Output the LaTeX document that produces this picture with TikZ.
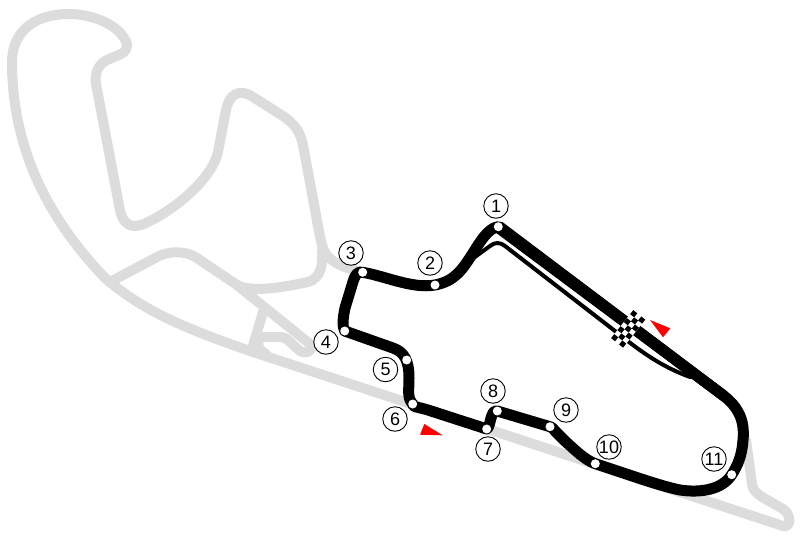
\documentclass[tikz,border=0pt]{standalone}
\usepackage{fontspec}
\setmainfont{Liberation Sans}
\definecolor{oldtrack}{HTML}{DCDCDC}
\tikzset{
  oldline/.style={draw=oldtrack,line width=10pt,line cap=round,line join=round},
  trackline/.style={draw=black,line width=11pt,line cap=round,line join=round},
  pitline/.style={draw=black,line width=4pt,line cap=round,line join=round},
  turndot/.style={circle,fill=white,inner sep=0pt,minimum size=9pt},
  turnlabel/.style={circle,draw=black,line width=0.9pt,fill=white,inner sep=0pt,minimum size=24.5pt,font=\fontsize{18}{18}\selectfont},
  dirmark/.style={fill=red,draw=none}
}
\begin{document}
\begin{tikzpicture}[x=1pt,y=-1pt]
\useasboundingbox (0,0) rectangle (800,536);
% --- unused former circuit
\draw[oldline] (362,272) .. controls (345,268) and (327,263) .. (322,245)
  .. controls (319,232) and (317,222) .. (316,215)
  -- (303,145) .. controls (300,130) and (293,123) .. (283,116)
  -- (253,97) .. controls (240,88) and (229,94) .. (226,110)
  -- (218,152) .. controls (212,178) and (178,207) .. (150,221)
  .. controls (132,231) and (122,226) .. (119,205)
  -- (96,84) .. controls (94,72) and (100,63) .. (107,60)
  -- (121,54) .. controls (130,49) and (128,43) .. (122,35)
  .. controls (110,20) and (85,14) .. (70,14)
  .. controls (30,14) and (11,35) .. (12,65)
  .. controls (13,140) and (40,210) .. (105,278)
  .. controls (140,308) and (175,325) .. (250,351)
  -- (783,526) .. controls (791,528) and (792,515) .. (783,509)
  -- (762,497) .. controls (755,492) and (753,490) .. (752,484)
  -- (746,440);
\draw[oldline] (322,250) .. controls (323,262) and (322,278) .. (308,282)
  .. controls (285,287) and (252,293) .. (237,285)
  -- (197,258) .. controls (185,250) and (168,251) .. (157,257)
  -- (110,282);
\draw[oldline] (237,285) -- (310,344) .. controls (315,351) and (305,355) .. (300,351)
  -- (290,342) .. controls (285,337) and (283,337) .. (278,337)
  -- (260,337);
\draw[oldline] (263,312) -- (252,349);
\draw[oldline] (260,337) .. controls (257,345) and (257,349) .. (266,354);
% --- pit lane
\draw[pitline] (468,262) -- (490,246) .. controls (495,242) and (500,242) .. (505,246)
  -- (615,331) .. controls (640,351) and (660,366) .. (690,377);
% --- current circuit
\coordinate (t1) at (498.3,226.7);
\coordinate (t2) at (435,285);
\coordinate (t3) at (362.7,272.3);
\coordinate (t4) at (344.7,331);
\coordinate (t5) at (406.7,360);
\coordinate (t6) at (412.7,404);
\coordinate (t7) at (486.7,429);
\coordinate (t8) at (497.3,411);
\coordinate (t9) at (550,426.7);
\coordinate (t10) at (595.3,463.7);
\coordinate (t11) at (731.7,474.7);
\draw[trackline] (t1) -- (724,396) .. controls (738,407) and (745,420) .. (743,440)
  .. controls (742,455) and (738,465) .. (t11)
  .. controls (722,490) and (700,493) .. (680,490)
  .. controls (660,486) and (630,475) .. (t10)
  .. controls (585,460) and (575,450) .. (565,441)
  -- (555,431) .. controls (553,428) and (551,427) .. (t9)
  -- (t8) .. controls (490,409) and (491,427) .. (t7)
  -- (428,410) .. controls (418,407) and (412,407) .. (t6)
  .. controls (407,398) and (409,390) .. (409,378)
  .. controls (409,360) and (404,352) .. (393,348)
  -- (t4) .. controls (342,326) and (343,318) .. (345,308)
  -- (352,285) .. controls (355,274) and (358,271) .. (t3)
  .. controls (385,276) and (412,289) .. (t2)
  .. controls (455,281) and (462,270) .. (473,253)
  .. controls (480,242) and (488,228) .. (t1);
\fill[black] (502,221.7) -- (727.3,391.6) -- (720.7,400.4) -- (494.5,231.7) -- cycle;
% --- start line
\begin{scope}[shift={(633.7,313.7)},x={(4pt,-3.17pt)},y={(-3.17pt,-4pt)}]
  \fill[white] (-0.5,-0.5) -- (2.5,-0.5) -- (2.5,6.5) -- (-0.5,6.5) -- cycle;
  \foreach \i/\j in {0/0,2/0,1/1,0/2,2/2,1/3,0/4,2/4,1/5,0/6,2/6}
    \fill[black] (\i-0.5,\j-0.5) -- (\i+0.5,\j-0.5) -- (\i+0.5,\j+0.5) -- (\i-0.5,\j+0.5) -- cycle;
\end{scope}
% --- direction marks
\fill[dirmark] (650,320) -- (670.3,328.3) -- (663,337.3) -- cycle;
\fill[dirmark] (424.3,424) -- (420,434.7) -- (442.7,435.3) -- cycle;
% --- turn dots
\foreach \n in {1,...,11} \node[turndot] (d\n) at (t\n) {};
% --- turn labels
\node[turnlabel] (n1) at (496,206) {1};
\node[turnlabel] (n2) at (430,263) {2};
\node[turnlabel] (n3) at (351,253) {3};
\node[turnlabel] (n4) at (326,342) {4};
\node[turnlabel] (n5) at (385.5,369.5) {5};
\node[turnlabel] (n6) at (395,419) {6};
\node[turnlabel] (n7) at (488,449) {7};
\node[turnlabel] (n8) at (493,391) {8};
\node[turnlabel] (n9) at (566,410) {9};
\node[turnlabel] (n10) at (609,447) {10};
\node[turnlabel] (n11) at (714,459) {11};
\end{tikzpicture}
\end{document}
